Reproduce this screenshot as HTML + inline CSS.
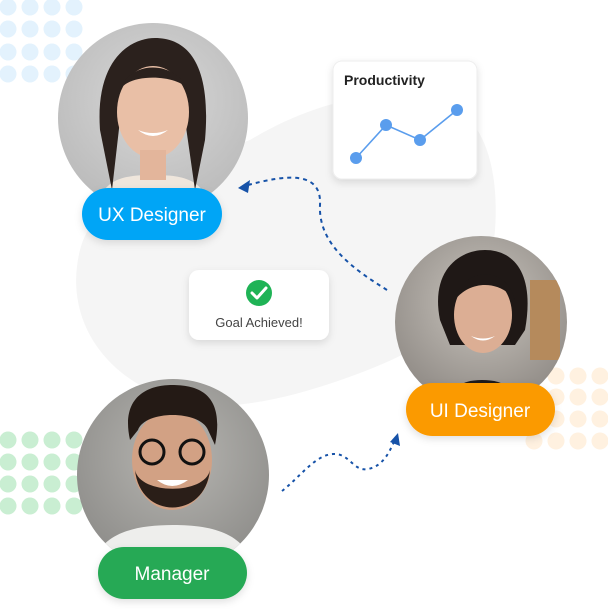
<!DOCTYPE html>
<html><head><meta charset="utf-8"><style>
html,body{margin:0;padding:0;background:#fff;width:608px;height:609px;overflow:hidden}
svg{display:block}
text{font-family:"Liberation Sans",sans-serif}
</style></head><body>
<svg width="608" height="609" viewBox="0 0 608 609" xmlns="http://www.w3.org/2000/svg">
<defs>
<filter id="sh" x="-20%" y="-20%" width="140%" height="160%"><feDropShadow dx="0" dy="3" stdDeviation="4" flood-color="#000" flood-opacity="0.12"/></filter>
<radialGradient id="bg1" cx="50%" cy="40%" r="60%"><stop offset="0" stop-color="#d8d8d8"/><stop offset="1" stop-color="#b9b9b9"/></radialGradient>
<radialGradient id="bg2" cx="50%" cy="40%" r="60%"><stop offset="0" stop-color="#c9c4bd"/><stop offset="1" stop-color="#8f8a85"/></radialGradient>
<radialGradient id="bg3" cx="50%" cy="40%" r="60%"><stop offset="0" stop-color="#b7b6b2"/><stop offset="1" stop-color="#8e8d8a"/></radialGradient>
<clipPath id="c1"><circle cx="153" cy="118" r="95"/></clipPath>
<clipPath id="c2"><circle cx="481" cy="322" r="86"/></clipPath>
<clipPath id="c3"><circle cx="173" cy="475" r="96"/></clipPath>
</defs>
<!-- blob -->
<path d="M250,140 C300,110 360,90 420,95 C480,100 500,160 495,230 C490,300 440,340 380,365 C320,390 250,410 200,405 C120,395 60,330 80,250 C95,190 180,165 250,140 Z" fill="#f5f5f5"/>
<!-- dots -->
<g fill="#e3f2fd">
<circle cx="8" cy="7" r="8.5"/><circle cx="30" cy="7" r="8.5"/><circle cx="52" cy="7" r="8.5"/><circle cx="74" cy="7" r="8.5"/>
<circle cx="8" cy="29" r="8.5"/><circle cx="30" cy="29" r="8.5"/><circle cx="52" cy="29" r="8.5"/><circle cx="74" cy="29" r="8.5"/>
<circle cx="8" cy="52" r="8.5"/><circle cx="30" cy="52" r="8.5"/><circle cx="52" cy="52" r="8.5"/><circle cx="74" cy="52" r="8.5"/>
<circle cx="8" cy="74" r="8.5"/><circle cx="30" cy="74" r="8.5"/><circle cx="52" cy="74" r="8.5"/><circle cx="74" cy="74" r="8.5"/>
</g>
<g fill="#c9eed2">
<circle cx="8" cy="440" r="8.5"/><circle cx="30" cy="440" r="8.5"/><circle cx="52" cy="440" r="8.5"/><circle cx="74" cy="440" r="8.5"/>
<circle cx="8" cy="462" r="8.5"/><circle cx="30" cy="462" r="8.5"/><circle cx="52" cy="462" r="8.5"/><circle cx="74" cy="462" r="8.5"/>
<circle cx="8" cy="484" r="8.5"/><circle cx="30" cy="484" r="8.5"/><circle cx="52" cy="484" r="8.5"/><circle cx="74" cy="484" r="8.5"/>
<circle cx="8" cy="506" r="8.5"/><circle cx="30" cy="506" r="8.5"/><circle cx="52" cy="506" r="8.5"/><circle cx="74" cy="506" r="8.5"/>
</g>
<g fill="#fff1e0">
<circle cx="534" cy="376" r="8.5"/><circle cx="556" cy="376" r="8.5"/><circle cx="578" cy="376" r="8.5"/><circle cx="600" cy="376" r="8.5"/>
<circle cx="534" cy="397" r="8.5"/><circle cx="556" cy="397" r="8.5"/><circle cx="578" cy="397" r="8.5"/><circle cx="600" cy="397" r="8.5"/>
<circle cx="534" cy="419" r="8.5"/><circle cx="556" cy="419" r="8.5"/><circle cx="578" cy="419" r="8.5"/><circle cx="600" cy="419" r="8.5"/>
<circle cx="534" cy="441" r="8.5"/><circle cx="556" cy="441" r="8.5"/><circle cx="578" cy="441" r="8.5"/><circle cx="600" cy="441" r="8.5"/>
</g>
<!-- UX photo -->
<g clip-path="url(#c1)">
<rect x="50" y="20" width="210" height="200" fill="url(#bg1)"/>
<path d="M95,215 C100,180 120,175 153,175 C186,175 206,180 212,215 Z" fill="#efe6dc"/>
<path d="M100,130 C95,60 130,38 155,38 C185,38 212,60 205,140 L195,190 L185,120 L120,120 L112,190 Z" fill="#2b211d"/>
<ellipse cx="153" cy="112" rx="36" ry="46" fill="#e9bfa6"/>
<rect x="140" y="150" width="26" height="30" fill="#e3b59b"/>
<path d="M120,90 C130,60 175,60 188,90 C180,75 130,72 120,90Z" fill="#2b211d"/>
<path d="M138,130 Q153,142 168,130 Q153,136 138,130Z" fill="#fff"/>
</g>
<!-- UI photo -->
<g clip-path="url(#c2)">
<rect x="390" y="230" width="185" height="180" fill="url(#bg2)"/>
<rect x="530" y="280" width="30" height="80" fill="#b58a5c"/>
<path d="M445,410 C450,385 465,380 482,380 C500,380 515,385 520,410Z" fill="#1d1a1a"/>
<path d="M440,320 C430,270 460,250 485,250 C515,250 535,275 525,330 L515,345 L450,345Z" fill="#1f1816"/>
<ellipse cx="483" cy="315" rx="29" ry="38" fill="#dcae94"/>
<path d="M455,300 C460,270 505,262 515,300 C500,280 470,280 455,300Z" fill="#1f1816"/>
<path d="M471,336 Q483,345 495,336 Q483,341 471,336Z" fill="#fff"/>
</g>
<!-- Manager photo -->
<g clip-path="url(#c3)">
<rect x="75" y="375" width="200" height="200" fill="url(#bg3)"/>
<path d="M90,575 C95,535 130,525 173,525 C216,525 250,535 255,575Z" fill="#eeeeec"/>
<ellipse cx="172" cy="460" rx="40" ry="50" fill="#d2a184"/>
<path d="M130,440 C120,395 150,385 172,385 C200,385 225,395 215,445 L208,430 C200,410 145,410 138,430Z" fill="#241a15"/>
<path d="M135,470 C140,520 205,520 210,470 C205,495 140,495 135,470Z" fill="#2a1e18"/>
<circle cx="152" cy="452" r="12" fill="none" stroke="#111" stroke-width="3"/>
<circle cx="192" cy="452" r="12" fill="none" stroke="#111" stroke-width="3"/>
<path d="M157,480 Q172,492 188,480Z" fill="#fff"/>
</g>
<!-- Productivity card -->
<rect x="333" y="61" width="144" height="118" rx="9" fill="#fff" stroke="#eeeeee" filter="url(#sh)"/>
<text x="344" y="85" font-size="14" font-weight="bold" fill="#222">Productivity</text>
<polyline points="356,158 386,125 420,140 457,110" fill="none" stroke="#5a9ded" stroke-width="1.6"/>
<g fill="#5a9ded"><circle cx="356" cy="158" r="6"/><circle cx="386" cy="125" r="6"/><circle cx="420" cy="140" r="6"/><circle cx="457" cy="110" r="6"/></g>
<!-- Goal card -->
<rect x="189" y="270" width="140" height="70" rx="10" fill="#fff" filter="url(#sh)"/>
<circle cx="259" cy="293" r="13" fill="#1fb356"/>
<path d="M252,293 L257,298 L266,288" fill="none" stroke="#fff" stroke-width="3" stroke-linecap="round" stroke-linejoin="round"/>
<text x="259" y="327" font-size="13" fill="#444" text-anchor="middle">Goal Achieved!</text>
<!-- arrows -->
<path d="M387,290 C355,270 318,245 320,205 C322,170 285,175 248,185" fill="none" stroke="#1652a8" stroke-width="2" stroke-dasharray="4,4"/>
<path d="M238,188 L250,180 L248,193 Z" fill="#1652a8"/>
<path d="M282,491 C300,477 315,455 333,454 C350,453 353,472 368,469 C384,466 390,450 394,442" fill="none" stroke="#1652a8" stroke-width="2" stroke-dasharray="3,4"/>
<path d="M398,433 L400,446 L390,442 Z" fill="#1652a8"/>
<!-- badges -->
<rect x="82" y="188" width="140" height="52" rx="26" fill="#03a5f6" filter="url(#sh)"/>
<text x="152" y="221" font-size="19" fill="#fff" text-anchor="middle">UX Designer</text>
<rect x="406" y="383" width="149" height="53" rx="26.5" fill="#fb9a03" filter="url(#sh)"/>
<text x="480" y="417" font-size="19" fill="#fff" text-anchor="middle">UI Designer</text>
<rect x="98" y="547" width="149" height="52" rx="26" fill="#28a955" filter="url(#sh)"/>
<text x="172" y="580" font-size="19" fill="#fff" text-anchor="middle">Manager</text>
</svg>
</body></html>
